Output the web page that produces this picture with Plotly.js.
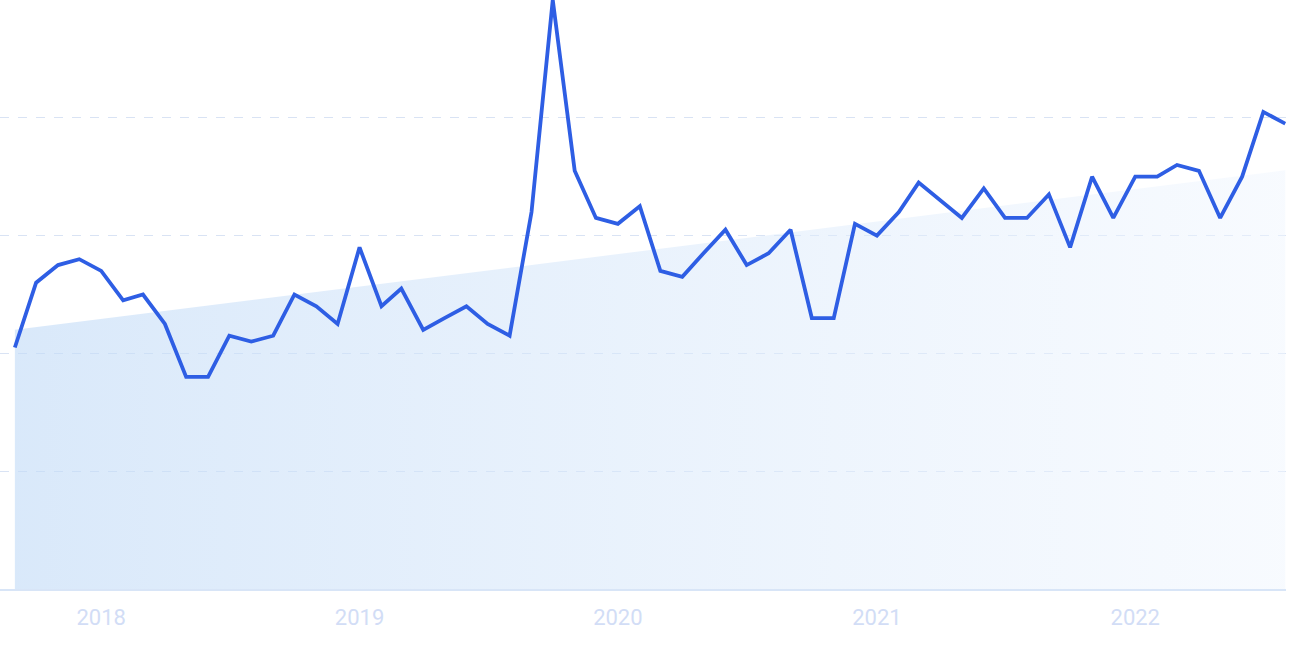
<!DOCTYPE html>
<html>
<head>
<meta charset="utf-8">
<script src="https://cdn.plot.ly/plotly-3.0.1.min.js"></script>
<style>
html,body{margin:0;padding:0;background:#fff;}
#chart{width:1290px;height:645px;}
</style>
</head>
<body>
<div id="chart"></div>
<script>
// Monthly interest values (Sep 2017 – Aug 2022)
const startMonth = '2017-09-01';
const values = [41, 52, 55, 56, 54, 49, 50, 45, 36, 36,
                43, 42, 43, 50, 48, 45, 58, 48, 51, 44,
                46, 48, 45, 43, 64, 100, 71, 63, 62, 65,
                54, 53, 57, 61, 55, 57, 61, 46, 46, 62,
                60, 64, 69, 66, 63, 68, 63, 63, 67, 58,
                70, 63, 70, 70, 72, 71, 63, 70, 81, 79];
const trendValues = [44, 71.1];
const tickYears = ['2018', '2019', '2020', '2021', '2022'];

function monthDates(start, n) {
  const [y0, m0] = start.split('-').map(Number);
  const out = [];
  for (let i = 0; i < n; i++) {
    const t = (m0 - 1) + i;
    const y = y0 + Math.floor(t / 12);
    const m = (t % 12) + 1;
    out.push(y + '-' + String(m).padStart(2, '0') + '-01');
  }
  return out;
}
const dates = monthDates(startMonth, values.length);
const trendDates = [dates[0], dates[dates.length - 1]];

const traces = [
  {
    x: trendDates, y: trendValues, type: 'scatter', mode: 'lines',
    line: {width: 0, color: 'rgba(0,0,0,0)'},
    fill: 'tozeroy',
    fillcolor: 'rgba(200,222,248,0.6)',
    fillgradient: {type: 'horizontal', colorscale: [[0, 'rgba(194,219,247,0.62)'], [1, 'rgba(240,246,254,0.5)']]},
    hoverinfo: 'skip', showlegend: false
  },
  {
    x: dates, y: values, type: 'scatter', mode: 'lines',
    line: {color: '#2e5ee4', width: 3.8},
    showlegend: false
  }
];

const layout = {
  width: 1290, height: 645,
  margin: {l: 0, r: 4, t: 0, b: 56},
  paper_bgcolor: '#ffffff', plot_bgcolor: '#ffffff',
  xaxis: {
    type: 'date',
    range: ['2017-08-11', '2022-08-02'],
    tickvals: tickYears.map(y => y + '-01-01'),
    ticktext: tickYears,
    showgrid: false, zeroline: false,
    showline: true, linecolor: '#d8e5f7', linewidth: 1.5,
    ticks: '',
    ticklabelstandoff: 8,
    tickfont: {family: 'Roboto, sans-serif', size: 22, color: '#d2ddf6'}
  },
  yaxis: {
    range: [0, 100],
    tickvals: [0, 20, 40, 60, 80, 100],
    showticklabels: false,
    showgrid: true, gridcolor: '#d9e3f4', griddash: 'dash', gridwidth: 1,
    zeroline: false, showline: false, ticks: ''
  }
};

Plotly.newPlot('chart', traces, layout, {displayModeBar: false, staticPlot: true});
</script>
</body>
</html>
